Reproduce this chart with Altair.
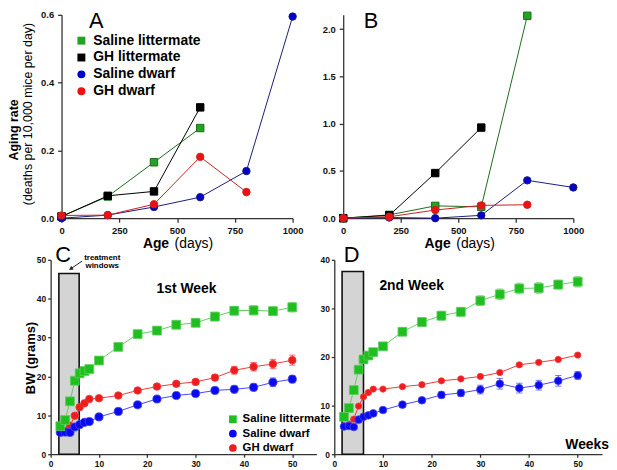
import altair as alt
import pandas as pd

FONT = "Liberation Sans"

# ---------------- Panels A & B : aging rate ----------------
DAYS = [0, 200, 400, 600, 800, 1000]
AGE_TICKS = [0, 250, 500, 750, 1000]
AB_SERIES = ["Saline littermate", "GH littermate", "Saline dwarf", "GH dwarf"]
AB_SHAPES = ["square", "square", "circle", "circle"]
AB_FILL = ["#22a322", "#000000", "#0000cc", "#ee1111"]
AB_LINE = ["#1d6b1d", "#000000", "#1c1c7a", "#cc1f1f"]

A_SAL_LIT = [0.005, 0.064, 0.165, 0.266]
A_GH_LIT = [0.005, 0.066, 0.079, 0.327]
A_SAL_DW = [0.0, 0.009, 0.033, 0.062, 0.139, 0.595]
A_GH_DW = [0.008, 0.009, 0.041, 0.181, 0.077]
A_YTICKS = [0.0, 0.2, 0.4, 0.6]

B_SAL_LIT = [0.0, 0.035, 0.13, 0.12, 2.14]
B_GH_LIT = [0.0, 0.03, 0.477, 0.958]
B_SAL_DW = [0.0, 0.007, 0.0, 0.03, 0.40, 0.325]
B_GH_DW = [0.0, 0.015, 0.086, 0.135, 0.142]
B_YTICKS = [0.0, 0.5, 1.0, 1.5, 2.0]

# ---------------- Panels C & D : body weight ----------------
WEEKS = [2, 3, 4, 5, 6, 7, 8, 10, 14, 18, 22, 26, 30, 34, 38, 42, 46, 50]
WEEK_TICKS = [0, 10, 20, 30, 40, 50]
CD_SERIES = ["Saline littermate", "Saline dwarf", "GH dwarf"]
CD_SHAPES = ["square", "circle", "circle"]
CD_FILL = ["#1fbf1f", "#0a0aee", "#ee1c1c"]
CD_LINE = ["#62cc62", "#4646f5", "#f23a3a"]
CD_DRAW_ORDER = ["GH dwarf", "Saline dwarf", "Saline littermate"]

C_SAL_LIT = [7.2, 8.8, 13.6, 18.9, 20.8, 21.4, 21.9, 24.1, 27.6, 30.9, 31.8, 33.3, 33.8, 35.4, 36.9, 37.0, 36.8, 37.8]
C_SAL_DW = [5.6, 5.7, 5.6, 7.0, 7.6, 8.2, 8.4, 9.6, 11.0, 12.7, 14.2, 15.1, 15.6, 16.4, 16.7, 17.2, 18.5, 19.3]
C_GH_DW = [5.9, 6.0, 7.3, 9.9, 12.1, 13.1, 14.2, 14.4, 15.1, 16.4, 17.4, 18.1, 18.6, 19.7, 21.6, 22.5, 23.2, 24.2]
C_SAL_LIT_ERR = [0.4, 0.4, 0.6, 0.7, 0.7, 0.6, 0.6, 0.7, 0.8, 0.9, 0.9, 1.0, 1.0, 1.1, 1.1, 1.2, 1.1, 1.2]
C_SAL_DW_ERR = [0.3, 0.3, 0.3, 0.3, 0.3, 0.3, 0.3, 0.4, 0.5, 0.5, 0.5, 0.6, 0.6, 0.6, 0.9, 0.9, 1.1, 0.9]
C_GH_DW_ERR = [0.3, 0.3, 0.3, 0.4, 0.4, 0.4, 0.4, 0.4, 0.5, 0.5, 0.6, 0.6, 0.6, 0.7, 1.0, 1.1, 1.2, 1.3]
C_YTICKS = [0, 10, 20, 30, 40, 50]
C_WINDOW = [1.7, 5.9]
C_WINDOW_TOP = 46.5

D_SAL_LIT = [7.7, 9.5, 13.2, 17.4, 19.5, 20.3, 21.0, 22.2, 25.2, 27.2, 28.5, 29.3, 31.6, 32.9, 34.1, 34.2, 34.9, 35.5]
D_SAL_DW = [5.7, 5.8, 5.6, 7.1, 7.7, 8.0, 8.4, 9.1, 10.2, 11.1, 12.2, 12.6, 13.3, 14.5, 13.6, 14.2, 15.1, 16.2]
D_GH_DW = [5.8, 6.2, 7.2, 9.9, 11.8, 12.7, 13.4, 13.4, 13.9, 14.3, 15.1, 15.5, 16.0, 16.8, 18.4, 18.9, 19.5, 20.4]
D_SAL_LIT_ERR = [0.4, 0.5, 0.6, 0.7, 0.7, 0.6, 0.6, 0.7, 0.8, 0.9, 0.9, 0.9, 1.0, 1.1, 1.1, 1.1, 0.9, 1.1]
D_SAL_DW_ERR = [0.3, 0.3, 0.3, 0.3, 0.3, 0.3, 0.3, 0.4, 0.5, 0.5, 0.6, 0.7, 0.9, 1.1, 1.0, 1.0, 1.1, 0.8]
D_GH_DW_ERR = [0.2, 0.2, 0.2, 0.2, 0.2, 0.2, 0.2, 0.2, 0.2, 0.3, 0.3, 0.3, 0.3, 0.3, 0.3, 0.3, 0.3, 0.3]
D_YTICKS = [0, 10, 20, 30, 40]
D_WINDOW = [1.6, 6.0]
D_WINDOW_TOP = 37.6

ONE = pd.DataFrame({"k": [0]})
TOP_H = 205
BOT_H = 196


def ab_frame(values):
    rows = []
    for name, vals in zip(AB_SERIES, values):
        for d, v in zip(DAYS, vals):
            rows.append({"series": name, "day": d, "rate": v})
    return pd.DataFrame(rows)


def cd_frame(values, errors):
    table = {n: (v, e) for n, v, e in zip(CD_SERIES, values, errors)}
    rows = []
    for name in CD_DRAW_ORDER:
        vals, errs = table[name]
        for w, v, e in zip(WEEKS, vals, errs):
            rows.append({"series": name, "week": w, "bw": v, "lo": v - e, "hi": v + e})
    return pd.DataFrame(rows)


def txt(s, x, y, size, weight="normal", align="center", angle=0, baseline="alphabetic"):
    return alt.Chart(ONE).mark_text(
        text=s, font=FONT, fontSize=size, fontWeight=weight, align=align,
        angle=angle, baseline=baseline, color="black"
    ).encode(x=alt.value(x), y=alt.value(y))


def rev(seq):
    return list(reversed(seq))


def ab_panel(df, ydom, yticks, xrange, yoffset, width, legend, notes):
    x = alt.X("day:Q", scale=alt.Scale(domain=[0, 1000], range=xrange, nice=False, zero=False),
              axis=alt.Axis(values=AGE_TICKS, title=None, format="d", labelFontSize=9.5,
                            tickSize=4, labelPadding=3, labelFlush=False))
    y = alt.Y("rate:Q", scale=alt.Scale(domain=ydom, nice=False, zero=False),
              axis=alt.Axis(values=yticks, title=None, format=".1f", labelFontSize=9.5,
                            tickSize=4, labelPadding=4, offset=yoffset))
    # stroke scale lists the same series in reverse order so its (hidden) legend stays separate
    stroke = alt.Stroke("series:N", scale=alt.Scale(domain=rev(AB_SERIES), range=rev(AB_LINE)), legend=None)
    color = alt.Color("series:N", scale=alt.Scale(domain=AB_SERIES, range=AB_FILL), legend=legend)
    shape = alt.Shape("series:N", scale=alt.Scale(domain=AB_SERIES, range=AB_SHAPES), legend=legend)
    lines = alt.Chart(df).mark_line(strokeWidth=1).encode(x=x, y=y, stroke=stroke)
    pts = alt.Chart(df).mark_point(filled=True, size=56, strokeWidth=1, opacity=1).encode(
        x=x, y=y, color=color, shape=shape, stroke=stroke)
    return alt.layer(lines, pts, *notes).properties(width=width, height=TOP_H)


def cd_panel(df, ytop, yticks, window, wtop, sizes, legend, notes, width):
    xs = alt.Scale(domain=[0, 55], nice=False, zero=False)
    ys = alt.Scale(domain=[0, ytop], nice=False, zero=False)
    xa = alt.Axis(values=WEEK_TICKS, title=None, format="d", labelFontSize=8.5, tickSize=3,
                  labelPadding=2, labelFlush=False)
    ya = alt.Axis(values=yticks, title=None, format="d", labelFontSize=8.5, tickSize=3, labelPadding=2)

    def X(f):
        return alt.X(f, type="quantitative", scale=xs, axis=xa)

    def Y(f):
        return alt.Y(f, type="quantitative", scale=ys, axis=ya)

    stroke = alt.Stroke("series:N", scale=alt.Scale(domain=rev(CD_SERIES), range=rev(CD_LINE)), legend=None)
    color = alt.Color("series:N", scale=alt.Scale(domain=CD_SERIES, range=CD_FILL), legend=legend)
    shape = alt.Shape("series:N", scale=alt.Scale(domain=CD_SERIES, range=CD_SHAPES), legend=legend)
    size = alt.Size("series:N", scale=alt.Scale(domain=rev(CD_SERIES), range=rev(sizes)), legend=None)

    wdf = pd.DataFrame({"x": [window[0]], "x2": [window[1]], "y": [0], "y2": [wtop]})
    rect = alt.Chart(wdf).mark_rect(fill="#d4d4d4", stroke="#111", strokeWidth=1.6).encode(
        x=X("x"), x2="x2", y=Y("y"), y2="y2")
    lines = alt.Chart(df).mark_line(strokeWidth=1).encode(x=X("week"), y=Y("bw"), stroke=stroke)
    bars = alt.Chart(df).mark_rule(strokeWidth=1).encode(x=X("week"), y=Y("lo"), y2="hi", stroke=stroke)
    cap_lo = alt.Chart(df).mark_point(shape="stroke", size=42, strokeWidth=1).encode(
        x=X("week"), y=Y("lo"), stroke=stroke)
    cap_hi = alt.Chart(df).mark_point(shape="stroke", size=42, strokeWidth=1).encode(
        x=X("week"), y=Y("hi"), stroke=stroke)
    pts = alt.Chart(df).mark_point(filled=True, strokeWidth=0.8, opacity=1).encode(
        x=X("week"), y=Y("bw"), color=color, shape=shape, size=size, stroke=stroke)
    return alt.layer(rect, lines, bars, cap_lo, cap_hi, pts, *notes).properties(width=width, height=BOT_H)


legend_a = alt.Legend(orient="none", legendX=24, legendY=19, title=None, labelFont=FONT,
                      labelFontWeight="bold", labelFontSize=14, labelColor="black",
                      symbolSize=64, rowPadding=3, padding=0, labelOffset=5,
                      symbolStrokeWidth=0, symbolOpacity=1)
legend_c = alt.Legend(orient="none", legendX=178, legendY=155, title=None, labelFont=FONT,
                      labelFontWeight="bold", labelFontSize=11.5, labelColor="black",
                      symbolSize=60, rowPadding=1.5, padding=0, labelOffset=4,
                      symbolStrokeWidth=0, symbolOpacity=1)

panel_a = ab_panel(
    ab_frame([A_SAL_LIT, A_GH_LIT, A_SAL_DW, A_GH_DW]), [0, 0.6], A_YTICKS, [11, 244], -11, 244,
    legend_a,
    [txt("A", 46, 13, 22),
     txt("Aging rate", -37, 116, 12.5, "bold", angle=270, baseline="middle"),
     txt("(deaths per 10,000 mice per day)", -23, 100, 12.5, angle=270, baseline="middle"),
     txt("Age", 93, 235, 14, "bold", align="left"),
     txt("(days)", 125, 235, 14, align="left")])

panel_b = ab_panel(
    ab_frame([B_SAL_LIT, B_GH_LIT, B_SAL_DW, B_GH_DW]), [0, 2.15], B_YTICKS, [9, 241], -9, 241,
    None,
    [txt("B", 37, 13, 22),
     txt("Age", 91, 235, 14, "bold", align="left"),
     txt("(days)", 123, 235, 14, align="left")])

arrow_c = [
    alt.Chart(ONE).mark_rule(strokeWidth=1, color="#222").encode(
        x=alt.value(31.7), y=alt.value(1.3), x2=alt.value(21.5), y2=alt.value(8.2)),
    alt.Chart(ONE).mark_point(shape="triangle-up", filled=True, size=22, angle=236, color="#222",
                              opacity=1).encode(x=alt.value(20.3), y=alt.value(9.0)),
]

panel_c = cd_panel(
    cd_frame([C_SAL_LIT, C_SAL_DW, C_GH_DW], [C_SAL_LIT_ERR, C_SAL_DW_ERR, C_GH_DW_ERR]),
    50, C_YTICKS, C_WINDOW, C_WINDOW_TOP, [100, 80, 58], legend_c,
    [txt("C", 12.5, 2, 22),
     txt("treatment", 52, 0, 8, "bold"),
     txt("windows", 52, 8.5, 8, "bold"),
     *arrow_c,
     txt("1st Week", 137, 33, 14, "bold"),
     txt("BW (grams)", -20, 99, 13, "bold", angle=270, baseline="middle")],
    268)

panel_d = cd_panel(
    cd_frame([D_SAL_LIT, D_SAL_DW, D_GH_DW], [D_SAL_LIT_ERR, D_SAL_DW_ERR, D_GH_DW_ERR]),
    40, D_YTICKS, D_WINDOW, D_WINDOW_TOP, [100, 80, 40], None,
    [txt("D", 17.5, 2, 22),
     txt("2nd Week", 78, 30, 14, "bold"),
     txt("Weeks", 277, 191, 14, "bold", align="right")],
    270)

chart = alt.concat(
    panel_a, panel_b, panel_c, panel_d,
    columns=2, spacing={"row": 42, "column": 18}, bounds="flush", align="each"
).resolve_scale(
    color="independent", stroke="independent", shape="independent", size="independent"
).resolve_legend(
    color="independent", shape="independent"
).properties(
    padding=0, background="white"
).configure_view(
    stroke=None
).configure_axis(
    grid=False, domainColor="#333", domainWidth=1.3, tickColor="#333", tickWidth=1.3,
    labelFont=FONT, labelFontWeight="bold", labelColor="#111"
)

chart.save("out.html", embed_options={"renderer": "svg", "actions": False})
